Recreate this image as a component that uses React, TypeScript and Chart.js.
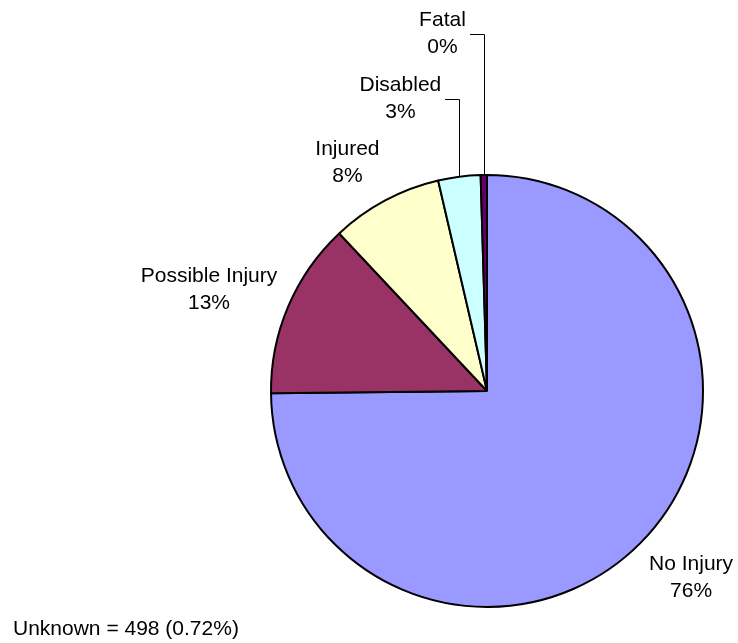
import React, { useEffect, useRef } from "react";
import { Chart, registerables } from "chart.js";

Chart.register(...registerables);

// ---- data ----
const categories = ["No Injury", "Possible Injury", "Injured", "Disabled", "Fatal"];
const counts = [51385, 9051, 5741, 2170, 323];
const percentLabels = ["76%", "13%", "8%", "3%", "0%"];
const unknownCount = 498;
const unknownPercent = "0.72%";

// ---- styles ----
const sliceColors = ["#9999FF", "#993366", "#FFFFCC", "#CCFFFF", "#660066"];
const FONT_FAMILY = '"Liberation Sans", Arial, sans-serif';
const FONT_SIZE = 21;
const LINE_H = 27;

type Placement =
  | { mode: "outside"; gap: number }
  | { mode: "leader"; rise: number; run: number };

const labelPlacement: Placement[] = [
  { mode: "outside", gap: 12 },
  { mode: "outside", gap: 12 },
  { mode: "outside", gap: 12 },
  { mode: "leader", rise: 78, run: 18 },
  { mode: "leader", rise: 141, run: 18 },
];

const clamp = (v: number, lo: number, hi: number) => Math.max(lo, Math.min(hi, v));

const labelPlugin = {
  id: "sliceLabels",
  afterDatasetsDraw(chart: any) {
    const ctx: CanvasRenderingContext2D = chart.ctx;
    const meta = chart.getDatasetMeta(0);
    ctx.save();
    ctx.font = `${FONT_SIZE}px ${FONT_FAMILY}`;
    ctx.fillStyle = "#000";
    ctx.strokeStyle = "#000";
    ctx.lineWidth = 1;
    ctx.textAlign = "center";
    ctx.textBaseline = "middle";
    meta.data.forEach((arc: any, i: number) => {
      const x = arc.x;
      const y = arc.y;
      const r = arc.outerRadius;
      const a = (arc.startAngle + arc.endAngle) / 2;
      const dx = Math.cos(a);
      const dy = Math.sin(a);
      const lines = [categories[i], percentLabels[i]];
      const w = Math.max(...lines.map((l) => ctx.measureText(l).width));
      const h = lines.length * LINE_H;
      const p = labelPlacement[i];
      let cx: number;
      let cy: number;
      if (p.mode === "leader") {
        const ex = x + r * dx;
        const ey = y + r * dy;
        const ly = ey - p.rise;
        cx = ex - p.run - w / 2;
        cy = ly;
        const lx = Math.round(ex) + 0.5;
        const lyy = Math.round(ly) + 0.5;
        ctx.beginPath();
        ctx.moveTo(Math.round(ex - p.run + 4), lyy);
        ctx.lineTo(lx, lyy);
        ctx.lineTo(lx, Math.round(ey));
        ctx.stroke();
      } else {
        const px = x + (r + p.gap) * dx;
        const py = y + (r + p.gap) * dy;
        cx = px + Math.sign(dx) * (w / 2);
        cy = py + (h / 2) * clamp(dy / Math.max(Math.abs(dx), 1e-6), -1, 1);
      }
      lines.forEach((l, k) => {
        ctx.fillText(l, cx, cy - h / 2 + LINE_H / 2 + k * LINE_H);
      });
    });
    // note about unknown records
    ctx.textAlign = "left";
    ctx.textBaseline = "alphabetic";
    ctx.fillText(`Unknown = ${unknownCount} (${unknownPercent})`, 13, 635);
    ctx.restore();
  },
};

export default function App() {
  const canvasRef = useRef<HTMLCanvasElement | null>(null);

  useEffect(() => {
    if (!canvasRef.current) return;
    const chart = new Chart(canvasRef.current, {
      type: "pie",
      data: {
        labels: categories,
        datasets: [
          {
            data: counts,
            backgroundColor: sliceColors,
            borderColor: "#000000",
            borderWidth: 2,
          },
        ],
      },
      options: {
        responsive: false,
        animation: false,
        radius: 216,
        layout: { padding: { left: 236, top: 139, right: 0, bottom: 0 } },
        plugins: {
          legend: { display: false },
          tooltip: { enabled: false },
        },
      } as any,
      plugins: [labelPlugin],
    });
    return () => chart.destroy();
  }, []);

  return (
    <div style={{ position: "absolute", left: 0, top: 0, width: 738, height: 643, background: "#fff" }}>
      <canvas ref={canvasRef} width={738} height={643} style={{ width: 738, height: 643, display: "block" }} />
    </div>
  );
}
